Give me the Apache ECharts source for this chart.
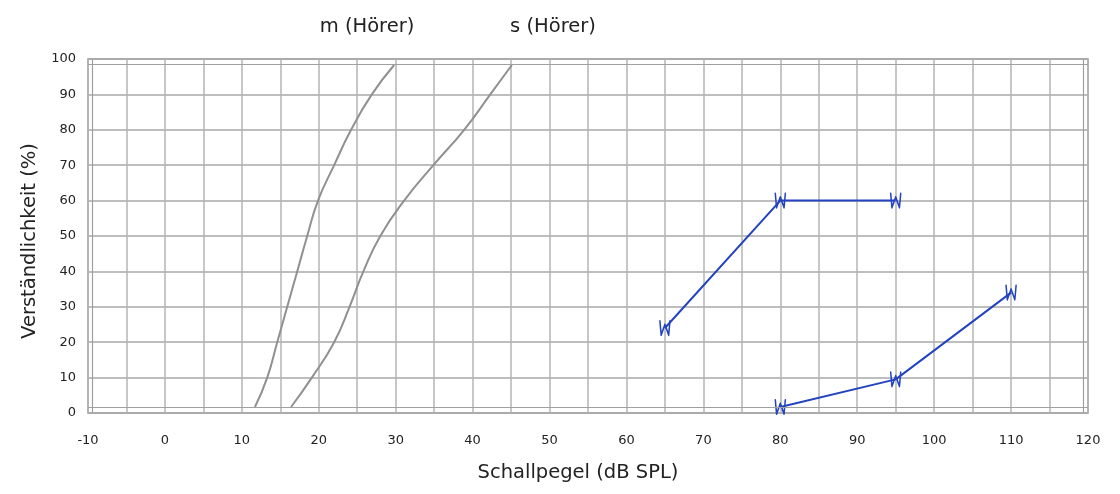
<!DOCTYPE html>
<html>
<head>
<meta charset="utf-8">
<script src="https://cdn.jsdelivr.net/npm/echarts@6/dist/echarts.min.js"></script>
<style>html,body{margin:0;padding:0;background:#fff}#c{width:1120px;height:494px}</style>
</head>
<body>
<div id="c"></div>
<script>
// Speech-intelligibility reference curves (gray)
const curveM = [[11.7,1.7],[13.3,10],[14.6,20],[15.9,30],[17.2,40],[18.5,50],[19.9,60],[22.0,70],[24.2,80],[26.9,90],[29.8,98.3]];
const curveS = [[16.4,1.7],[19.1,10],[22.0,20],[24.0,30],[25.8,40],[28.0,50],[31.1,60],[34.9,70],[38.9,80],[42.3,90],[45.1,98.3]];
// Measured results (blue)
const resultA = [[65,24],[80,60],[95,60]];
const resultB = [[80,1.7],[95,9.5],[110,34]];
// Axis settings
const xMin = -10, xMax = 120, xStep = 5;
const yMin = 0, yMax = 100, yStep = 10;
const innerFrameX = [-9.5, 119.4];
const innerFrameY = [1.6, 98.5];
const topLabels = ['m (Hörer)', 's (Hörer)'];
const xTitle = 'Schallpegel (dB SPL)';
const yTitle = 'Verständlichkeit (%)';

const FONT = 'DejaVu Sans';
const chart = echarts.init(document.getElementById('c'));
const wSymbol = 'path://M0,0 L1.5,20 L6,5 L10.5,20 L12,0';
const grayStyle = {color:'#909090', width:2};
const blueStyle = {color:'#2443c0', width:2};
const markerStyle = {color:'none',borderColor:'#2443c0',borderWidth:1.8,borderJoin:'round',borderCap:'round'};

chart.setOption({
  animation:false,
  textStyle:{fontFamily:FONT},
  grid:{left:88,right:32,top:59,bottom:81,show:true,borderColor:'#9a9a9a',borderWidth:1.5},
  graphic:[
    {type:'text',x:367,y:27,style:{text:topLabels[0],font:'19.5px "DejaVu Sans"',fill:'#222',textAlign:'center',textVerticalAlign:'middle'}},
    {type:'text',x:553,y:27,style:{text:topLabels[1],font:'19.5px "DejaVu Sans"',fill:'#222',textAlign:'center',textVerticalAlign:'middle'}}
  ],
  xAxis:{
    type:'value',min:xMin,max:xMax,interval:xStep,
    name:xTitle,nameLocation:'middle',nameGap:50,
    nameTextStyle:{fontSize:19.5,color:'#222',fontFamily:FONT,padding:[0,20,0,0]},
    axisLine:{show:false},axisTick:{show:false},
    axisLabel:{fontSize:13,color:'#222',margin:21,fontFamily:FONT,
      formatter:v=> v%10===0 ? (v===60 ? '{up|60}' : String(v)) : '',
      rich:{up:{fontSize:13,color:'#222',fontFamily:FONT,padding:[0,0,5,0]}}},
    splitLine:{show:true,lineStyle:{color:'#b4b4b4',width:1.5}}
  },
  yAxis:{
    type:'value',min:yMin,max:yMax,interval:yStep,
    name:yTitle,nameLocation:'middle',nameGap:46,
    nameTextStyle:{fontSize:19.5,color:'#222',fontFamily:FONT,padding:[0,10,0,0]},
    axisLine:{show:false},axisTick:{show:false},
    axisLabel:{fontSize:13,color:'#222',margin:12,fontFamily:FONT},
    splitLine:{show:true,lineStyle:{color:'#a8a8a8',width:1.5}}
  },
  series:[
    {type:'line',data:curveM,smooth:0.5,symbol:'none',lineStyle:grayStyle,z:3,
     markLine:{silent:true,symbol:'none',label:{show:false},
       lineStyle:{color:'#a0a0a0',width:1.2,type:'solid'},
       data:[{xAxis:innerFrameX[0]},{xAxis:innerFrameX[1]},{yAxis:innerFrameY[0]},{yAxis:innerFrameY[1]}]}},
    {type:'line',data:curveS,smooth:0.5,symbol:'none',lineStyle:grayStyle,z:3},
    {type:'line',data:resultA,symbol:wSymbol,symbolSize:[10,14],symbolKeepAspect:false,
     itemStyle:markerStyle,lineStyle:blueStyle,z:4},
    {type:'line',data:resultB,symbol:wSymbol,symbolSize:[10,14],symbolKeepAspect:false,
     itemStyle:markerStyle,lineStyle:blueStyle,z:4}
  ]
});
</script>
</body>
</html>
